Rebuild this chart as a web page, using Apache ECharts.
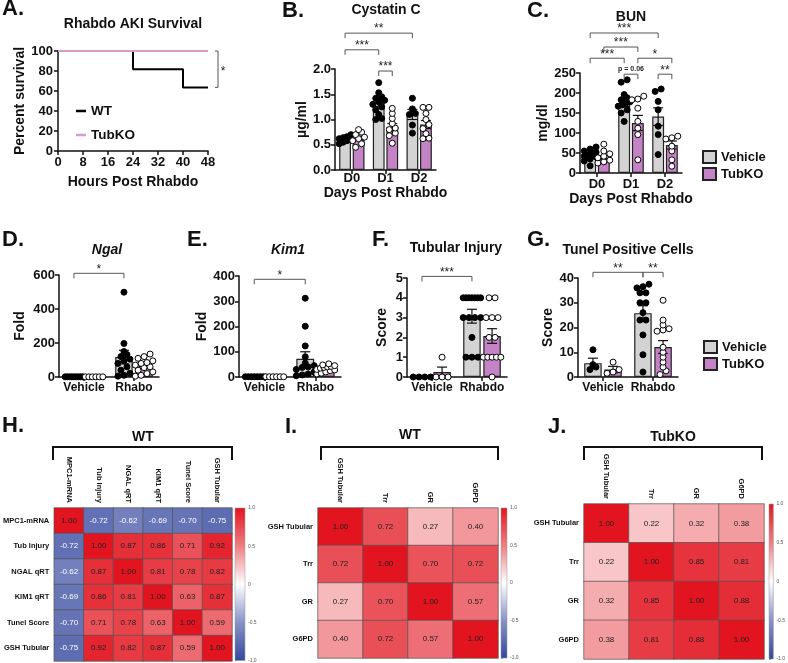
<!DOCTYPE html>
<html><head><meta charset="utf-8">
<script src="https://cdn.jsdelivr.net/npm/echarts/dist/echarts.min.js"></script>
<style>html,body{margin:0;padding:0;background:#fff}#c{width:788px;height:663px}</style>
</head><body><div id="c"></div>
<script>
// ---------------- DATA ----------------
// A. Rhabdo AKI survival (Kaplan-Meier)
const kmHours = [0, 24, 40, 48];
const kmWT = [100, 81.8, 63.6, 63.6];
const kmKOHours = [0, 48];
const kmKO = [100, 100];
const kmSig = {y1: 100, y2: 63.6, t: '*'};

// B. Cystatin C (µg/ml)
const dayCats = ['D0', 'D1', 'D2'];
const cysVehMean = [0.61, 1.33, 1.10];
const cysVehSem = [0.03, 0.07, 0.10];
const cysKOMean = [0.63, 0.85, 0.90];
const cysKOSem = [0.04, 0.07, 0.08];
const cysVehDots = [
  [0.70, 0.66, 0.64, 0.62, 0.60, 0.58, 0.55, 0.52],
  [1.73, 1.53, 1.45, 1.42, 1.38, 1.35, 1.30, 1.25, 1.19, 1.10, 1.02, 1.00],
  [1.42, 1.21, 1.12, 1.10, 0.89, 0.73]
];
const cysKODots = [
  [0.80, 0.75, 0.70, 0.65, 0.62, 0.58, 0.52, 0.45],
  [1.22, 1.12, 1.02, 0.92, 0.83, 0.80, 0.73, 0.68, 0.53],
  [1.24, 1.24, 1.12, 1.00, 0.90, 0.82, 0.72, 0.63, 0.62]
];
const cysSig = [
  {a: [0, 0], b: [2, 0], y: 2.71, t: '**'},
  {a: [0, 0], b: [1, 0], y: 2.38, t: '***'},
  {a: [1, 0], b: [1, 1], y: 1.96, t: '***'}
];

// C. BUN (mg/dl)
const bunVehMean = [47, 175, 141];
const bunVehSem = [4, 9, 22];
const bunKOMean = [38, 125, 70];
const bunKOSem = [5, 19, 10];
const bunVehDots = [
  [65, 60, 55, 52, 50, 48, 46, 44, 42, 40, 35, 30, 18],
  [233, 227, 196, 188, 183, 178, 175, 170, 167, 158, 150, 129],
  [210, 204, 179, 158, 117, 96, 46]
];
const bunKODots = [
  [72, 55, 48, 42, 38, 32, 28, 25],
  [192, 185, 183, 162, 129, 112, 96, 33],
  [92, 88, 85, 67, 55, 33, 17]
];
const bunSig = [
  {a: [0, 0], b: [2, 0], y: 350, t: '***'},
  {a: [0, 1], b: [1, 1], y: 315, t: '***'},
  {a: [0, 0], b: [1, 0], y: 287, t: '***'},
  {a: [1, 1], b: [2, 1], y: 287, t: '*'},
  {a: [1, 0], b: [1, 1], y: 247, t: 'p = 0.06'},
  {a: [2, 0], b: [2, 1], y: 247, t: '**'}
];

// D. Ngal (fold)
const ngalCats = ['Vehicle', 'Rhabo'];
const ngalVehMean = [1, 117];
const ngalVehSem = [0.2, 40];
const ngalKOMean = [1, 72];
const ngalKOSem = [0.2, 11];
const ngalVehDots = [[1, 1, 1, 1, 1, 1, 1, 1, 1], [499, 197, 150, 132, 120, 105, 95, 80, 60, 40, 22, 10, 5]];
const ngalKODots = [[1, 1, 1, 1, 1, 1], [135, 120, 110, 95, 85, 80, 70, 60, 55, 40, 30, 20, 10, 5]];
const ngalSig = [{a: [0, 0], b: [1, 0], y: 610, t: '*'}];

// E. Kim1 (fold)
const kimCats = ['Vehicle', 'Rhabo'];
const kimVehMean = [1.5, 72];
const kimVehSem = [0.2, 28];
const kimKOMean = [1, 33];
const kimKOSem = [0.2, 4];
const kimVehDots = [[1, 1, 1, 1, 1, 1, 1], [312, 201, 123, 80, 55, 45, 40, 38, 30, 20, 12, 8, 5]];
const kimKODots = [[1, 1, 1, 1, 1, 1], [52, 48, 45, 42, 40, 38, 35, 30, 28, 25, 20, 15, 12]];
const kimSig = [{a: [0, 0], b: [1, 0], y: 387, t: '*'}];

// F. Tubular injury (score)
const scoreCats = ['Vehicle', 'Rhabdo'];
const tubVehMean = [0, 3.07];
const tubVehSem = [0, 0.35];
const tubKOMean = [0.25, 2.07];
const tubKOSem = [0.25, 0.37];
const tubVehDots = [[0, 0, 0, 0], [4, 4, 4, 4, 4, 4, 4, 3, 3, 3, 3, 2, 1, 1, 1]];
const tubKODots = [[1, 0, 0, 0], [4, 4, 3, 3, 3, 2, 2, 1, 1, 1, 1, 1, 0]];
const tubSig = [{a: [0, 0], b: [1, 0], y: 5.08, t: '***'}];

// G. Tunel positive cells (score)
const tunVehMean = [5.6, 25.8];
const tunVehSem = [2.0, 3.0];
const tunKOMean = [3.0, 12.1];
const tunKOSem = [1.3, 2.6];
const tunVehDots = [[11, 5, 4, 3], [37.5, 36.5, 36, 34, 34, 30, 30, 26, 23, 23, 17, 9, 2]];
const tunKODots = [[6, 3, 2, 1.5], [31, 23, 21, 19.5, 19, 18.5, 12, 10, 8, 6, 4, 2.5, 1]];
const tunSig = [{a: [0, 0], b: [1, 0], y: 42.3, t: '**'}, {a: [1, 0], b: [1, 1], y: 42.3, t: '**'}];

// H. WT correlation
const hCats = ['MPC1-mRNA', 'Tub Injury', 'NGAL qRT', 'KIM1 qRT', 'Tunel Score', 'GSH Tubular'];
const hVals = [
  [1.00, -0.72, -0.62, -0.69, -0.70, -0.75],
  [-0.72, 1.00, 0.87, 0.86, 0.71, 0.92],
  [-0.62, 0.87, 1.00, 0.81, 0.78, 0.82],
  [-0.69, 0.86, 0.81, 1.00, 0.63, 0.87],
  [-0.70, 0.71, 0.78, 0.63, 1.00, 0.59],
  [-0.75, 0.92, 0.82, 0.87, 0.59, 1.00]
];
// I. WT antioxidant correlation
const iCats = ['GSH Tubular', 'Trr', 'GR', 'G6PD'];
const iVals = [
  [1.00, 0.72, 0.27, 0.40],
  [0.72, 1.00, 0.70, 0.72],
  [0.27, 0.70, 1.00, 0.57],
  [0.40, 0.72, 0.57, 1.00]
];
// J. TubKO antioxidant correlation
const jCats = ['GSH Tubular', 'Trr', 'GR', 'G6PD'];
const jVals = [
  [1.00, 0.22, 0.32, 0.38],
  [0.22, 1.00, 0.85, 0.81],
  [0.32, 0.85, 1.00, 0.88],
  [0.38, 0.81, 0.88, 1.00]
];
const cbTicks = [-1, -0.5, 0, 0.5, 1];

// ---------------- STYLE / BUILD ----------------
const FF = 'Liberation Sans';
const INK = '#111';
const GRAY = '#d3d3d3', PURPLE = '#c383c5', PINK = '#d99cc8';
const RED = '#e2141f', BLUE = '#34489c';
const HEAT = [BLUE, '#8792c8', '#ffffff', '#ef7d82', RED];
function ts(size, extra) { return Object.assign({color: INK, fontFamily: FF, fontWeight: 'bold', fontSize: size}, extra || {}); }
const AXL = {show: true, onZero: false, lineStyle: {color: INK, width: 1.5}};
const AXT = {show: true, length: 4, inside: false, lineStyle: {color: INK, width: 1.5}};

const grid = [], xAxis = [], yAxis = [], series = [], graphic = [], heatIdx = [];

function txt(t, x, y, size, align, extra) {
  const font = (extra && extra.italic ? 'italic ' : '') + 'bold ' + size + 'px "' + FF + '"';
  graphic.push({type: 'text', x: x, y: y, silent: true, style: {text: t, font: font, fill: INK,
    textAlign: align, textVerticalAlign: 'middle', align: align, verticalAlign: 'middle'}});
}

// ---- Panel A
(function () {
  const g = grid.length;
  grid.push({left: 58, top: 51, width: 150, height: 100});
  const xi = xAxis.length, yi = yAxis.length;
  xAxis.push({type: 'value', gridIndex: g, min: 0, max: 48, interval: 8, axisLine: AXL, axisTick: AXT,
    axisLabel: ts(13, {margin: 5}), splitLine: {show: false},
    name: 'Hours Post Rhabdo', nameLocation: 'middle', nameGap: 24, nameTextStyle: ts(14)});
  yAxis.push({type: 'value', gridIndex: g, min: 0, max: 100, interval: 20, axisLine: AXL, axisTick: AXT,
    axisLabel: ts(13, {margin: 5}), splitLine: {show: false},
    name: 'Percent survival', nameLocation: 'middle', nameGap: 31, nameTextStyle: ts(14)});
  series.push({type: 'line', name: 'WT', xAxisIndex: xi, yAxisIndex: yi, step: 'end', symbol: 'none',
    data: kmHours.map((h, i) => [h, kmWT[i]]), color: '#000', lineStyle: {color: '#000', width: 2},
    clip: false, silent: true, z: 3});
  series.push({type: 'line', name: 'TubKO ', xAxisIndex: xi, yAxisIndex: yi, step: 'end', symbol: 'none',
    data: kmKOHours.map((h, i) => [h, kmKO[i]]), color: PINK, lineStyle: {color: PINK, width: 2},
    clip: false, silent: true, z: 4});
  series.push({type: 'custom', xAxisIndex: xi, yAxisIndex: yi, clip: false, silent: true, z: 5,
    data: [[kmHours[kmHours.length - 1], kmSig.y1, kmSig.y2]],
    renderItem: function (params, api) {
      const p1 = api.coord([api.value(0), api.value(1)]);
      const p2 = api.coord([api.value(0), api.value(2)]);
      const x = p1[0] + 10;
      return {type: 'group', children: [
        {type: 'polyline', shape: {points: [[x - 3, p1[1]], [x, p1[1]], [x, p2[1]], [x - 3, p2[1]]]},
          style: {stroke: '#555', lineWidth: 1, fill: null}},
        {type: 'text', x: x + 5, y: (p1[1] + p2[1]) / 2 + 2, style: {text: kmSig.t, font: '12px "' + FF + '"', fill: '#222',
          textAlign: 'center', textVerticalAlign: 'middle', align: 'center', verticalAlign: 'middle'}}
      ]};
    }});
})();

function swarm(vals, cx, pxX, pxY, diam, maxW) {
  const s = vals.slice().sort((a, b) => a - b);
  const rows = []; let cur = [];
  for (const v of s) {
    if (cur.length && (v - cur[0]) * pxY > diam * 0.75) { rows.push(cur); cur = []; }
    cur.push(v);
  }
  if (cur.length) rows.push(cur);
  const out = [];
  for (const r of rows) {
    const n = r.length;
    const step = n > 1 ? Math.min(diam, maxW / (n - 1)) : 0;
    r.forEach((v, i) => out.push([cx + (i - (n - 1) / 2) * step / pxX, v]));
  }
  return out;
}

function barPanel(p) {
  const g = grid.length;
  grid.push({left: p.left, top: p.top, width: p.width, height: p.height});
  const xc = xAxis.length;
  xAxis.push({type: 'category', gridIndex: g, data: p.cats, axisLine: AXL,
    axisTick: Object.assign({alignWithLabel: true}, AXT),
    axisLabel: ts(p.catSize, {margin: p.catMargin, interval: 0}), splitLine: {show: false},
    name: p.xName || '', nameLocation: 'middle', nameGap: p.xNameGap || 0, nameTextStyle: ts(14)});
  const xv = xAxis.length;
  xAxis.push({type: 'value', gridIndex: g, min: -0.5, max: p.cats.length - 0.5, show: false, splitLine: {show: false}});
  const yi = yAxis.length;
  const yl = ts(13, {margin: 4});
  if (p.fmt) yl.formatter = p.fmt;
  yAxis.push({type: 'value', gridIndex: g, min: 0, max: p.max, interval: p.interval, axisLine: AXL, axisTick: AXT,
    splitLine: {show: false}, axisLabel: yl,
    name: p.yName, nameLocation: 'middle', nameGap: p.yNameGap, nameTextStyle: ts(14)});
  const bw = 0.35, bg = 0.15;
  const off = bw / 2 + bw * bg / 2;
  const sx = s => (s === 0 ? -off : off);
  const groups = [
    {name: 'Vehicle', mean: p.vMean, sem: p.vSem, dots: p.vDots, color: GRAY, fill: '#000'},
    {name: 'TubKO', mean: p.kMean, sem: p.kSem, dots: p.kDots, color: PURPLE, fill: '#fff'}
  ];
  const pxX = p.width / p.cats.length, pxY = p.height / p.max;
  groups.forEach((gr, s) => {
    series.push({type: 'bar', name: gr.name, xAxisIndex: xc, yAxisIndex: yi, data: gr.mean,
      barWidth: (bw * 100) + '%', barGap: (bg * 100) + '%',
      itemStyle: {color: gr.color, borderColor: '#222', borderWidth: 1.2}, silent: true, z: 2});
  });
  groups.forEach((gr, s) => {
    series.push({type: 'custom', xAxisIndex: xv, yAxisIndex: yi, z: 3, silent: true, clip: false,
      data: gr.mean.map((m, i) => [i + sx(s), m, gr.sem[i]]),
      renderItem: function (params, api) {
        const x = api.value(0), m = api.value(1), e = api.value(2);
        const t = api.coord([x, m + e]), b = api.coord([x, m - e]);
        const cw = 5, st = {stroke: INK, lineWidth: 1.2};
        return {type: 'group', children: [
          {type: 'line', shape: {x1: t[0], y1: t[1], x2: b[0], y2: b[1]}, style: st},
          {type: 'line', shape: {x1: t[0] - cw, y1: t[1], x2: t[0] + cw, y2: t[1]}, style: st},
          {type: 'line', shape: {x1: b[0] - cw, y1: b[1], x2: b[0] + cw, y2: b[1]}, style: st}
        ]};
      }});
  });
  groups.forEach((gr, s) => {
    let pts = [];
    gr.dots.forEach((vals, i) => { pts = pts.concat(swarm(vals, i + sx(s), pxX, pxY, 6, bw * pxX)); });
    series.push({type: 'scatter', xAxisIndex: xv, yAxisIndex: yi, data: pts, symbolSize: 6, z: 4, silent: true, clip: false,
      itemStyle: {color: gr.fill, borderColor: '#000', borderWidth: 1, opacity: 1}});
  });
  series.push({type: 'custom', xAxisIndex: xv, yAxisIndex: yi, z: 5, silent: true, clip: false,
    data: p.sig.map(q => [q.a[0] + sx(q.a[1]), q.b[0] + sx(q.b[1]), q.y]),
    renderItem: function (params, api) {
      const p1 = api.coord([api.value(0), api.value(2)]);
      const p2 = api.coord([api.value(1), api.value(2)]);
      const d = 5;
      const t = p.sig[params.dataIndex].t;
      const small = t.charAt(0) === 'p';
      return {type: 'group', children: [
        {type: 'polyline', shape: {points: [[p1[0], p1[1] + d], [p1[0], p1[1]], [p2[0], p2[1]], [p2[0], p2[1] + d]]},
          style: {stroke: '#555', lineWidth: 1, fill: null}},
        {type: 'text', x: (p1[0] + p2[0]) / 2, y: p1[1] - (small ? 5 : 4),
          style: {text: t, fill: '#222', font: (small ? 'bold 7px "' : '12px "') + FF + '"',
            textAlign: 'center', textVerticalAlign: 'middle', align: 'center', verticalAlign: 'middle'}}
      ]};
    }});
}

barPanel({left: 335, top: 69, width: 101, height: 101, cats: dayCats, max: 2, interval: 0.5, fmt: v => v.toFixed(1),
  yName: 'µg/ml', yNameGap: 24, xName: 'Days Post Rhabdo', xNameGap: 10, catSize: 13, catMargin: 2,
  vMean: cysVehMean, vSem: cysVehSem, kMean: cysKOMean, kSem: cysKOSem, vDots: cysVehDots, kDots: cysKODots, sig: cysSig});
barPanel({left: 580, top: 73, width: 102, height: 100, cats: dayCats, max: 250, interval: 50,
  yName: 'mg/dl', yNameGap: 30, xName: 'Days Post Rhabdo', xNameGap: 19, catSize: 13, catMargin: 5,
  vMean: bunVehMean, vSem: bunVehSem, kMean: bunKOMean, kSem: bunKOSem, vDots: bunVehDots, kDots: bunKODots, sig: bunSig});
barPanel({left: 59, top: 275, width: 100, height: 102, cats: ngalCats, max: 600, interval: 200,
  yName: 'Fold', yNameGap: 32, catSize: 12, catMargin: 5,
  vMean: ngalVehMean, vSem: ngalVehSem, kMean: ngalKOMean, kSem: ngalKOSem, vDots: ngalVehDots, kDots: ngalKODots, sig: ngalSig});
barPanel({left: 239, top: 276, width: 102, height: 101, cats: kimCats, max: 400, interval: 100,
  yName: 'Fold', yNameGap: 30, catSize: 12, catMargin: 5,
  vMean: kimVehMean, vSem: kimVehSem, kMean: kimKOMean, kSem: kimKOSem, vDots: kimVehDots, kDots: kimKODots, sig: kimSig});
barPanel({left: 407, top: 278, width: 100, height: 99, cats: scoreCats, max: 5, interval: 1,
  yName: 'Score', yNameGap: 18, catSize: 12, catMargin: 5,
  vMean: tubVehMean, vSem: tubVehSem, kMean: tubKOMean, kSem: tubKOSem, vDots: tubVehDots, kDots: tubKODots, sig: tubSig});
barPanel({left: 578, top: 278, width: 100, height: 99, cats: scoreCats, max: 40, interval: 10,
  yName: 'Score', yNameGap: 23, catSize: 12, catMargin: 5,
  vMean: tunVehMean, vSem: tunVehSem, kMean: tunKOMean, kSem: tunKOSem, vDots: tunVehDots, kDots: tunKODots, sig: tunSig});

function heatPanel(p) {
  const g = grid.length;
  grid.push({left: p.left, top: p.top, width: p.width, height: p.height});
  const xi = xAxis.length, yi = yAxis.length;
  xAxis.push({type: 'category', gridIndex: g, data: p.cats, position: 'top', axisLine: {show: false}, axisTick: {show: false},
    splitLine: {show: false}, axisLabel: ts(p.lbl, {rotate: 90, margin: 5, interval: 0})});
  yAxis.push({type: 'category', gridIndex: g, data: p.cats, inverse: true, axisLine: {show: false}, axisTick: {show: false},
    splitLine: {show: false}, axisLabel: ts(p.lbl, {margin: 5, interval: 0})});
  const data = [];
  p.vals.forEach((row, r) => row.forEach((v, c) => data.push({value: [c, r, v], label: {color: v < 0 ? '#fff' : '#222'}})));
  series.push({type: 'heatmap', xAxisIndex: xi, yAxisIndex: yi, data: data, silent: true,
    label: {show: true, fontSize: p.val, fontFamily: FF, formatter: q => q.value[2].toFixed(2)},
    itemStyle: {borderColor: '#555', borderWidth: 0.7}});
  heatIdx.push(series.length - 1);
  // colour bar
  const g2 = grid.length;
  grid.push({left: p.cbLeft, top: p.top, width: p.cbWidth, height: p.height});
  const xi2 = xAxis.length, yi2 = yAxis.length;
  xAxis.push({type: 'value', gridIndex: g2, min: 0, max: 1, show: false, splitLine: {show: false}});
  yAxis.push({type: 'value', gridIndex: g2, min: cbTicks[0], max: cbTicks[cbTicks.length - 1], interval: 0.5, position: 'right',
    axisLine: {show: false}, axisTick: {show: true, length: 2, lineStyle: {color: '#666', width: 0.6}}, splitLine: {show: false},
    axisLabel: {fontSize: 5, color: '#555', fontFamily: FF, margin: 3, formatter: v => (v === 0 ? '0' : v.toFixed(1))}});
  series.push({type: 'custom', xAxisIndex: xi2, yAxisIndex: yi2, silent: true, clip: false, data: [[0, 1]],
    renderItem: function (params, api) {
      const a = api.coord([0, 1]), b = api.coord([1, -1]);
      return {type: 'rect', shape: {x: a[0], y: a[1], width: b[0] - a[0], height: b[1] - a[1]},
        style: {fill: new echarts.graphic.LinearGradient(0, 0, 0, 1, HEAT.slice().reverse().map((c, k) => ({offset: k / (HEAT.length - 1), color: c}))),
          stroke: '#999', lineWidth: 0.5}};
    }});
  // bracket
  graphic.push({type: 'polyline', silent: true, shape: {points: [[p.brL, 460], [p.brL, 447], [p.brR, 447], [p.brR, 460]]},
    style: {stroke: INK, lineWidth: 2, fill: null}});
}

heatPanel({left: 53, top: 508, width: 179, height: 153, cats: hCats, vals: hVals, lbl: 7.5, val: 8,
  cbLeft: 235, cbWidth: 10, brL: 53, brR: 232});
heatPanel({left: 318, top: 508, width: 180, height: 150, cats: iCats, vals: iVals, lbl: 7.5, val: 8,
  cbLeft: 501, cbWidth: 6, brL: 321, brR: 498});
heatPanel({left: 584, top: 504, width: 180, height: 155, cats: jCats, vals: jVals, lbl: 7.5, val: 8,
  cbLeft: 769, cbWidth: 7, brL: 584, brR: 762});

// titles and panel letters
txt('A.', 2, 9, 22, 'left'); txt('B.', 282, 11, 22, 'left'); txt('C.', 527, 11, 22, 'left');
txt('D.', 2, 240, 22, 'left'); txt('E.', 187, 240, 22, 'left'); txt('F.', 372, 240, 22, 'left');
txt('G.', 527, 240, 22, 'left'); txt('H.', 2, 426, 22, 'left'); txt('I.', 285, 427, 22, 'left');
txt('J.', 548, 427, 22, 'left');
txt('Rhabdo AKI Survival', 133, 24, 14, 'center');
txt('Cystatin C', 386, 10, 14, 'center');
txt('BUN', 631, 17, 14, 'center');
txt('Ngal', 107, 250, 14, 'center', {italic: true});
txt('Kim1', 288, 250, 14, 'center', {italic: true});
txt('Tubular Injury', 456, 248, 14, 'center');
txt('Tunel Positive Cells', 628, 250, 14, 'center');
txt('WT', 143, 437, 14, 'center');
txt('WT', 410, 435, 14, 'center');
txt('TubKO', 673, 437, 14, 'center');

const option = {
  animation: false,
  backgroundColor: '#fff',
  grid: grid, xAxis: xAxis, yAxis: yAxis, series: series, graphic: graphic,
  visualMap: [{type: 'continuous', min: -1, max: 1, seriesIndex: heatIdx, show: false, calculable: false,
    inRange: {color: HEAT}}],
  legend: [
    {data: [{name: 'WT', icon: 'rect'}, {name: 'TubKO ', icon: 'rect'}], orient: 'vertical', left: 71, top: 99,
      itemWidth: 10, itemHeight: 2.5, itemGap: 10, textStyle: ts(13.5), selectedMode: false},
    {data: [{name: 'Vehicle', icon: 'rect'}, {name: 'TubKO', icon: 'rect'}], orient: 'vertical', left: 697, top: 145,
      itemWidth: 13, itemHeight: 12, itemGap: 3, textStyle: ts(13), selectedMode: false},
    {data: [{name: 'Vehicle', icon: 'rect'}, {name: 'TubKO', icon: 'rect'}], orient: 'vertical', left: 698, top: 335,
      itemWidth: 13, itemHeight: 12, itemGap: 3, textStyle: ts(13), selectedMode: false}
  ]
};
const chart = echarts.init(document.getElementById('c'), null, {renderer: 'canvas', width: 788, height: 663});
chart.setOption(option);
</script></body></html>
